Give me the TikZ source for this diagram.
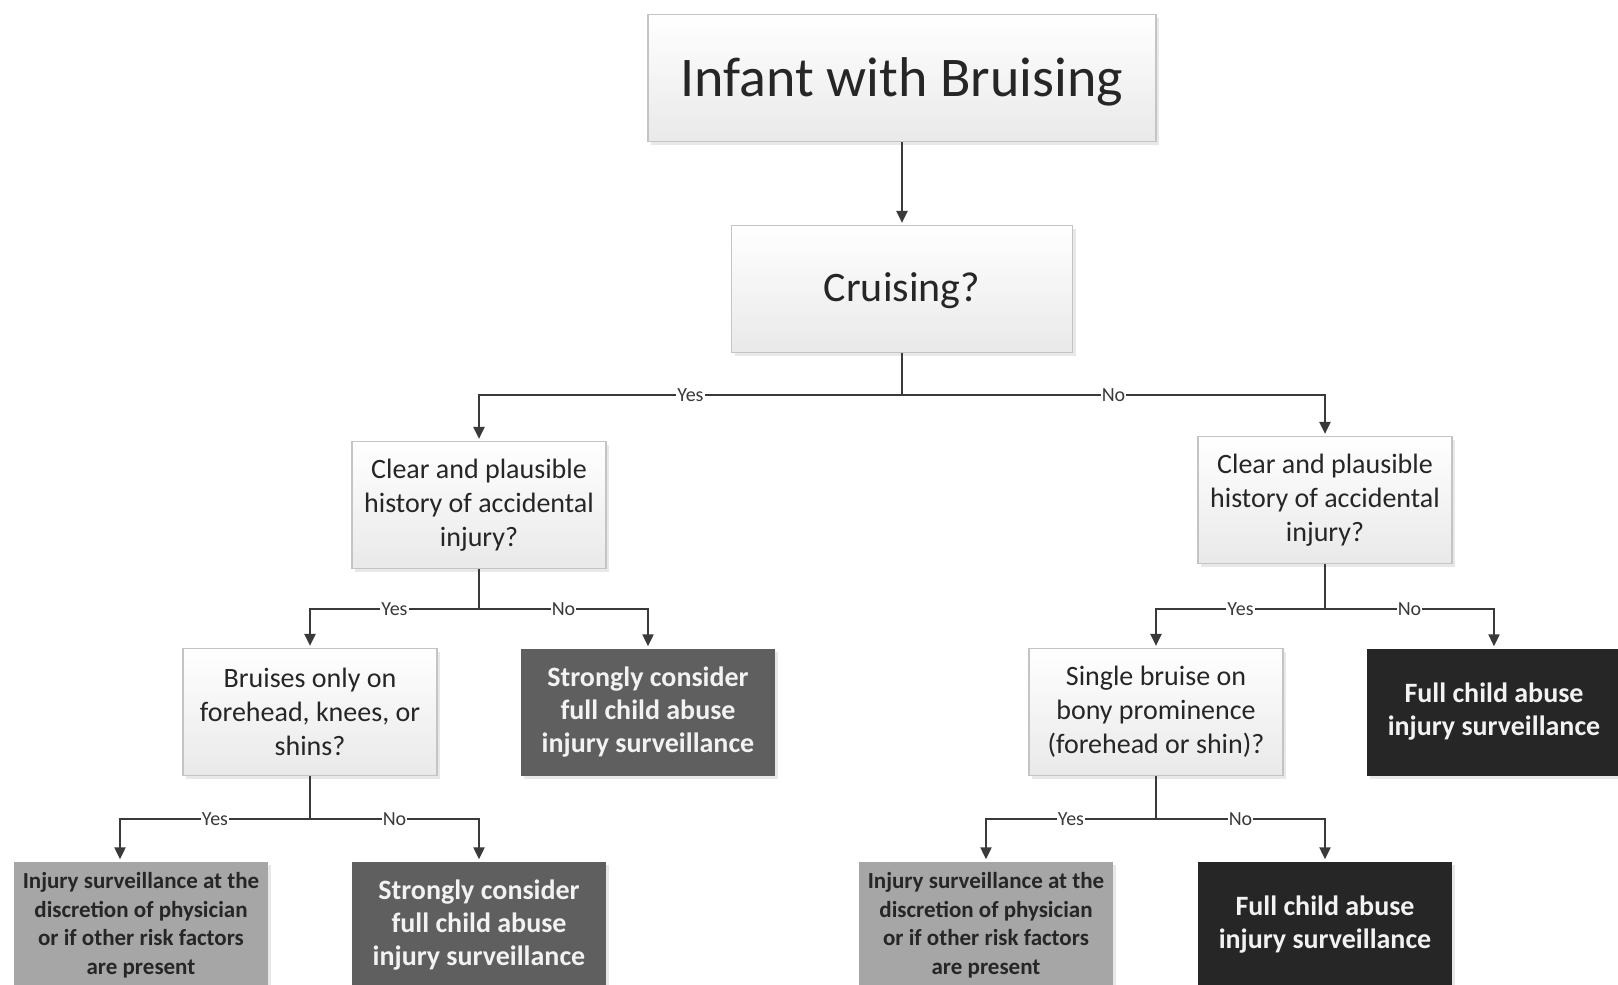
\documentclass[tikz,border=0pt]{standalone}
\usepackage{fontspec}
\setmainfont{Carlito}
\usetikzlibrary{arrows.meta,shadows}
\definecolor{linec}{HTML}{3A3A3A}
\definecolor{boxborder}{HTML}{C4C4C4}
\definecolor{boxbottom}{HTML}{E9E9E9}
\definecolor{textdark}{HTML}{262626}
\definecolor{midfill}{HTML}{5F5F5F}
\definecolor{darkfill}{HTML}{262626}
\definecolor{grayfill}{HTML}{A6A6A6}
\definecolor{textlight}{HTML}{F2F2F2}
\begin{document}
\begin{tikzpicture}[x=1pt,y=-1pt,
  box/.style={rectangle, inner sep=0pt, align=center, minimum width=254pt, minimum height=127pt},
  light/.style={box, draw=boxborder, line width=1.2pt, top color=white, bottom color=boxbottom,
     text=textdark, font=\fontsize{28}{34}\selectfont,
     drop shadow={opacity=0.18, shadow xshift=3pt, shadow yshift=-3pt}},
  midbox/.style={box, fill=midfill, text=textlight, font=\bfseries\fontsize{28}{33}\selectfont,
     drop shadow={opacity=0.18, shadow xshift=3pt, shadow yshift=-3pt}},
  darkbox/.style={box, fill=darkfill, text=textlight, font=\bfseries\fontsize{28}{33}\selectfont,
     drop shadow={opacity=0.18, shadow xshift=3pt, shadow yshift=-3pt}},
  graybox/.style={box, fill=grayfill, text=textdark, font=\bfseries\fontsize{23}{28.5}\selectfont,
     drop shadow={opacity=0.18, shadow xshift=3pt, shadow yshift=-3pt}},
  conn/.style={draw=linec, line width=2.2pt, -{Triangle[length=12pt,width=11pt]}, shorten >=2pt},
  lbl/.style={fill=white, inner sep=1pt, text=linec, font=\fontsize{20}{22}\selectfont}
]
\useasboundingbox (0,0) rectangle (1618,985);
\clip (0,0) rectangle (1618,985);
\fill[white] (0,0) rectangle (1618,985);

% nodes
\node[light, minimum width=508pt, text depth=2pt, font=\fontsize{56}{67}\selectfont] (inf) at (902,78) {Infant with Bruising};
\node[light, minimum width=341pt, text depth=3pt, font=\fontsize{42}{50}\selectfont] (cru) at (902,289) {Cruising?};
\node[light] (clL) at (479,505) {Clear and plausible\\history of accidental\\injury?};
\node[light] (clR) at (1325,500) {Clear and plausible\\history of accidental\\injury?};
\node[light] (brL) at (310,712) {Bruises only on\\forehead, knees, or\\shins?};
\node[midbox] (scT) at (648,712) {Strongly consider\\full child abuse\\injury surveillance};
\node[light] (sgR) at (1156,712) {Single bruise on\\bony prominence\\(forehead or shin)?};
\node[darkbox] (fcT) at (1494,712) {Full child abuse\\injury surveillance};
\node[graybox] (isL) at (141,925) {Injury surveillance at the\\discretion of physician\\or if other risk factors\\are present};
\node[midbox] (scB) at (479,925) {Strongly consider\\full child abuse\\injury surveillance};
\node[graybox] (isR) at (986,925) {Injury surveillance at the\\discretion of physician\\or if other risk factors\\are present};
\node[darkbox] (fcB) at (1325,925) {Full child abuse\\injury surveillance};

% junctions
\coordinate (j0) at (902,395);
\coordinate (j1) at (479,609);
\coordinate (j2) at (1325,609);
\coordinate (j3) at (310,819);
\coordinate (j4) at (1156,819);
\coordinate (isLin) at ([xshift=-21pt]isL.north);

% connectors
\draw[conn] (inf) -- (cru);
\draw[conn] (cru.south) -- (j0) -| node[lbl,pos=0.25]{Yes} (clL.north);
\draw[conn] (cru.south) -- (j0) -| node[lbl,pos=0.25]{No} (clR.north);
\draw[conn] (clL.south) -- (j1) -| node[lbl,pos=0.25]{Yes} (brL.north);
\draw[conn] (clL.south) -- (j1) -| node[lbl,pos=0.25]{No} (scT.north);
\draw[conn] (clR.south) -- (j2) -| node[lbl,pos=0.25]{Yes} (sgR.north);
\draw[conn] (clR.south) -- (j2) -| node[lbl,pos=0.25]{No} (fcT.north);
\draw[conn] (brL.south) -- (j3) -| node[lbl,pos=0.25]{Yes} (isLin);
\draw[conn] (brL.south) -- (j3) -| node[lbl,pos=0.25]{No} (scB.north);
\draw[conn] (sgR.south) -- (j4) -| node[lbl,pos=0.25]{Yes} (isR.north);
\draw[conn] (sgR.south) -- (j4) -| node[lbl,pos=0.25]{No} (fcB.north);
\end{tikzpicture}
\end{document}
